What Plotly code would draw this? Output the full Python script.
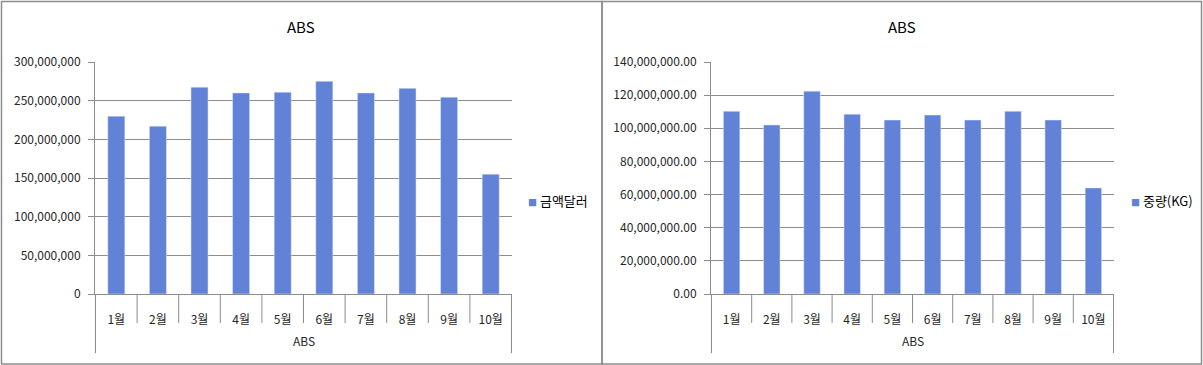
import plotly.graph_objects as go

W, H = 1203, 365

months = ["1월", "2월", "3월", "4월", "5월", "6월", "7월", "8월", "9월", "10월"]
group_label = "ABS"
chart_title = "ABS"
amount_name = "금액달러"
amount_usd = [230e6, 217e6, 267.5e6, 260e6, 261e6, 275e6, 260e6, 266e6, 254.5e6, 155e6]
weight_name = "중량(KG)"
weight_kg = [110.3e6, 102e6, 122.4e6, 108.5e6, 105e6, 108e6, 105e6, 110.3e6, 105e6, 64e6]

BAR = "#6182d6"
GRID = "#8c8c8c"
FONT = "Noto Sans CJK KR"
TXT = "#262626"


def px(x):
    return x / W


def py(y):
    return 1 - y / H


fig = go.Figure()
fig.add_trace(go.Bar(x=months, y=amount_usd, name=amount_name, marker_color=BAR,
                     xaxis="x", yaxis="y", showlegend=False))
fig.add_trace(go.Bar(x=months, y=weight_kg, name=weight_name, marker_color=BAR,
                     xaxis="x2", yaxis="y2", showlegend=False))

panels = [
    dict(xa="xaxis", ya="yaxis", xr="x", yr="y", x0=95, x1=512, title_x=301,
         pl=1.5, pr=602, legx=526, name=amount_name),
    dict(xa="xaxis2", ya="yaxis2", xr="x2", yr="y2", x0=711, x1=1114, title_x=902,
         pl=602, pr=1201.5, legx=1129, name=weight_name),
]
top, bottom = 62, 294

ycfg = [
    dict(range=[0, 300e6], dtick=50e6, tickformat=",d"),
    dict(range=[0, 140e6], dtick=20e6, tickformat=",.2f"),
]

shapes = []
annotations = []
for i, p in enumerate(panels):
    fig.layout[p["xa"]] = dict(
        domain=[px(p["x0"]), px(p["x1"])], anchor=p["yr"], type="category",
        showline=True, linecolor=GRID, linewidth=1, ticks="", showgrid=False,
        automargin=False,
        tickfont=dict(family=FONT, size=12, color=TXT), ticklabelstandoff=15,
    )
    fig.layout[p["ya"]] = dict(
        domain=[py(bottom), py(top)], anchor=p["xr"], range=ycfg[i]["range"],
        dtick=ycfg[i]["dtick"], tickformat=ycfg[i]["tickformat"],
        showline=True, linecolor=GRID, linewidth=1, showgrid=True, gridcolor=GRID,
        gridwidth=1, zeroline=False, ticks="outside", ticklen=6, tickcolor=GRID,
        automargin=False,
        tickfont=dict(family=FONT, size=12, color=TXT), ticklabelstandoff=5,
    )
    plot_h = bottom - top
    # category dividers below the axis
    for k in range(len(months) + 1):
        long_line = k == 0 or k == len(months)
        shapes.append(dict(type="line", xref=p["xr"], yref=p["yr"] + " domain",
                           x0=k - 0.5, x1=k - 0.5, y0=0,
                           y1=-(59 if long_line else 29) / plot_h,
                           line=dict(color=GRID, width=1)))
    # panel border
    shapes.append(dict(type="rect", xref="paper", yref="paper",
                       x0=px(p["pl"]), x1=px(p["pr"]), y0=py(364), y1=py(1.5),
                       line=dict(color=GRID, width=1.5), layer="below"))
    annotations.append(dict(text=chart_title, xref="paper", yref="paper",
                            x=px(p["title_x"]), y=py(26), showarrow=False,
                            xanchor="center", yanchor="middle",
                            font=dict(family=FONT, size=15, color="#000000")))
    annotations.append(dict(text=group_label, xref="paper", yref="paper",
                            x=px((p["x0"] + p["x1"]) / 2), y=py(340), showarrow=False,
                            xanchor="center", yanchor="middle",
                            font=dict(family=FONT, size=12, color=TXT)))
    # legend entry
    annotations.append(dict(
        text=f"<span style='color:{BAR};font-size:9px'>■</span> {p['name']}",
        xref="paper", yref="paper", x=px(p["legx"]), y=py(200), showarrow=False,
        xanchor="left", yanchor="middle",
        font=dict(family=FONT, size=13, color="#000000")))

fig.update_layout(
    width=W, height=H, margin=dict(l=0, r=0, t=0, b=0, autoexpand=False),
    paper_bgcolor="white", plot_bgcolor="white",
    bargap=0.59, showlegend=False,
    shapes=shapes, annotations=annotations,
)

fig.write_html(
    "out.html",
    config={"displayModeBar": False},
    post_script="document.body.style.margin='0';document.body.style.padding='0';"
                "document.documentElement.style.overflow='hidden';",
)
